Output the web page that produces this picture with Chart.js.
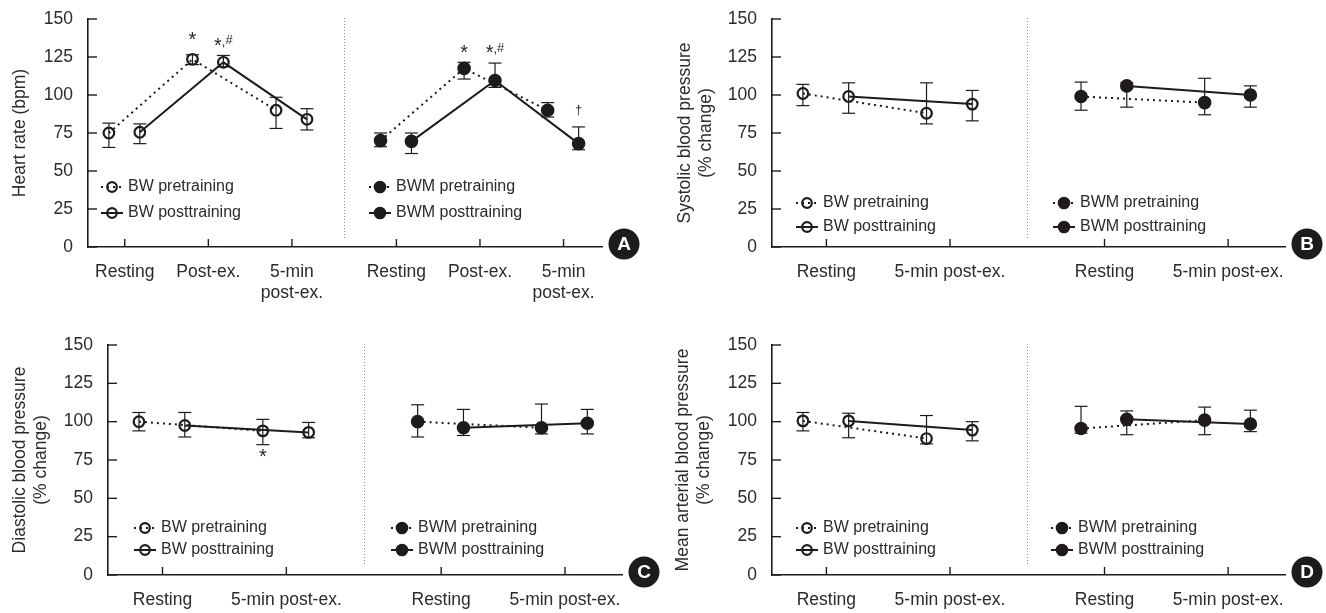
<!DOCTYPE html>
<html>
<head>
<meta charset="utf-8">
<script src="https://cdn.jsdelivr.net/npm/chart.js@4.4.1/dist/chart.umd.min.js"></script>
<style>
  html, body { margin: 0; padding: 0; background: #fff; }
  #wrap { position: relative; width: 1326px; height: 613px; }
  canvas { position: absolute; }
</style>
</head>
<body>
<div id="wrap">
  <canvas id="panelA" width="663" height="306" style="left:0;top:0"></canvas>
  <canvas id="panelB" width="663" height="306" style="left:663px;top:0"></canvas>
  <canvas id="panelC" width="663" height="307" style="left:0;top:306px"></canvas>
  <canvas id="panelD" width="663" height="307" style="left:663px;top:306px"></canvas>
</div>
<script>
const hrCategories = ['Resting', 'Post-ex.', ['5-min', 'post-ex.']];
const bpCategories = ['Resting', '5-min post-ex.'];
const groupNames = ['BW', 'BWM'];
const yTicks = [0, 25, 50, 75, 100, 125, 150];

// A - heart rate (bpm): mean, lower and upper end of the error bar
const hrBwPre = [75, 123.5, 90];
const hrBwPreLo = [65.5, 120, 78];
const hrBwPreHi = [81.5, 126.5, 98.5];
const hrBwPost = [75.5, 121.5, 84];
const hrBwPostLo = [68, 118.5, 77];
const hrBwPostHi = [81, 126, 91];
const hrBwmPre = [70, 117.5, 90];
const hrBwmPreLo = [66, 110.5, 85.5];
const hrBwmPreHi = [75, 121.5, 95];
const hrBwmPost = [69.5, 109.5, 68];
const hrBwmPostLo = [61.5, 105, 64];
const hrBwmPostHi = [75, 121, 79];

// B - systolic blood pressure (% change)
const sbpBwPre = [101, 88];
const sbpBwPreLo = [93, 81];
const sbpBwPreHi = [107, 108];
const sbpBwPost = [99, 94];
const sbpBwPostLo = [88, 83];
const sbpBwPostHi = [108, 103];
const sbpBwmPre = [99, 95];
const sbpBwmPreLo = [90, 87];
const sbpBwmPreHi = [108.5, 111];
const sbpBwmPost = [106, 100];
const sbpBwmPostLo = [92, 92];
const sbpBwmPostHi = [108, 106];

// C - diastolic blood pressure (% change)
const dbpBwPre = [100, 94];
const dbpBwPreLo = [94, 85];
const dbpBwPreHi = [106, 101.5];
const dbpBwPost = [97.5, 93];
const dbpBwPostLo = [90, 89.5];
const dbpBwPostHi = [106, 99.5];
const dbpBwmPre = [100, 96];
const dbpBwmPreLo = [90, 92];
const dbpBwmPreHi = [111, 111.5];
const dbpBwmPost = [96, 99];
const dbpBwmPostLo = [91, 92];
const dbpBwmPostHi = [108, 108];

// D - mean arterial blood pressure (% change)
const mapBwPre = [100.5, 89];
const mapBwPreLo = [94, 85.5];
const mapBwPreHi = [106, 104];
const mapBwPost = [100.5, 94.5];
const mapBwPostLo = [89.5, 87.5];
const mapBwPostHi = [105.5, 100];
const mapBwmPre = [95.5, 101];
const mapBwmPreLo = [92.5, 91.5];
const mapBwmPreHi = [110, 109.5];
const mapBwmPost = [101.5, 98.5];
const mapBwmPostLo = [91.5, 93.5];
const mapBwmPostHi = [107, 107.5];

const FONT = "'Liberation Sans', Arial, sans-serif";
const INK = '#1f1b1c';
const TEXT = '#2b2b2b';
const GAP = 1.25;          // extra room between the BW and BWM halves
const PRE_SHIFT = -0.19;   // pre/post markers sit either side of the tick
const POST_SHIFT = 0.18;

function series(group, kind, mean, lo, hi) {
  return { group, kind, mean, lo, hi };
}

const panels = [
  {
    id: 'panelA', badge: 'A', title: 'Heart rate (bpm)', titlePad: 10,
    categories: hrCategories,
    axisLeft: 88, axisRight: 602, plotTop: 19, plotBottom: 247,
    legendX: [24, 292], legendRows: [-60, -34],
    series: [
      series(0, 'pre', hrBwPre, hrBwPreLo, hrBwPreHi),
      series(0, 'post', hrBwPost, hrBwPostLo, hrBwPostHi),
      series(1, 'pre', hrBwmPre, hrBwmPreLo, hrBwmPreHi),
      series(1, 'post', hrBwmPost, hrBwmPostLo, hrBwmPostHi)
    ],
    notes: [
      { group: 0, kind: 'pre', index: 1, value: 135, text: '*' },
      { group: 0, kind: 'post', index: 1, value: 135, text: '*,#' },
      { group: 1, kind: 'pre', index: 1, value: 130, text: '*' },
      { group: 1, kind: 'post', index: 1, value: 130, text: '*,#' },
      { group: 1, kind: 'post', index: 2, value: 90, text: '\u2020' }
    ]
  },
  {
    id: 'panelB', badge: 'B', title: ['Systolic blood pressure', '(% change)'], titlePad: 12,
    categories: bpCategories,
    axisLeft: 109, axisRight: 622, plotTop: 19, plotBottom: 247,
    legendX: [35, 292], legendRows: [-44, -20],
    series: [
      series(0, 'pre', sbpBwPre, sbpBwPreLo, sbpBwPreHi),
      series(0, 'post', sbpBwPost, sbpBwPostLo, sbpBwPostHi),
      series(1, 'pre', sbpBwmPre, sbpBwmPreLo, sbpBwmPreHi),
      series(1, 'post', sbpBwmPost, sbpBwmPostLo, sbpBwmPostHi)
    ],
    notes: []
  },
  {
    id: 'panelC', badge: 'C', title: ['Diastolic blood pressure', '(% change)'], titlePad: 10,
    categories: bpCategories,
    axisLeft: 108, axisRight: 622, plotTop: 39, plotBottom: 269,
    legendX: [37, 294], legendRows: [-47, -25],
    series: [
      series(0, 'pre', dbpBwPre, dbpBwPreLo, dbpBwPreHi),
      series(0, 'post', dbpBwPost, dbpBwPostLo, dbpBwPostHi),
      series(1, 'pre', dbpBwmPre, dbpBwmPreLo, dbpBwmPreHi),
      series(1, 'post', dbpBwmPost, dbpBwmPostLo, dbpBwmPostHi)
    ],
    notes: [
      { group: 0, kind: 'pre', index: 1, value: 76, text: '*' }
    ]
  },
  {
    id: 'panelD', badge: 'D', title: ['Mean arterial blood pressure', '(% change)'], titlePad: 10,
    categories: bpCategories,
    axisLeft: 109, axisRight: 622, plotTop: 39, plotBottom: 269,
    legendX: [35, 290], legendRows: [-47, -25],
    series: [
      series(0, 'pre', mapBwPre, mapBwPreLo, mapBwPreHi),
      series(0, 'post', mapBwPost, mapBwPostLo, mapBwPostHi),
      series(1, 'pre', mapBwmPre, mapBwmPreLo, mapBwmPreHi),
      series(1, 'post', mapBwmPost, mapBwmPostLo, mapBwmPostHi)
    ],
    notes: []
  }
];

function tickValue(n, group, i) {
  return 1 + i + group * (n - 1 + GAP);
}

function tickValues(n) {
  const out = [];
  groupNames.forEach((g, gi) => {
    for (let i = 0; i < n; i++) out.push(tickValue(n, gi, i));
  });
  return out;
}

function buildDatasets(p) {
  const n = p.categories.length;
  return p.series.map(s => ({
    label: groupNames[s.group] + ' ' + (s.kind === 'pre' ? 'pretraining' : 'posttraining'),
    data: s.mean.map((v, i) => ({
      x: tickValue(n, s.group, i) + (s.kind === 'pre' ? PRE_SHIFT : POST_SHIFT),
      y: v
    })),
    lo: s.lo,
    hi: s.hi,
    group: s.group,
    kind: s.kind,
    borderColor: INK,
    borderWidth: 2,
    borderDash: s.kind === 'pre' ? [2, 4] : [],
    pointRadius: s.group ? 6 : 5.3,
    pointBorderWidth: s.group ? 1.6 : 2.2,
    pointBorderColor: INK,
    pointBackgroundColor: s.group ? INK : 'rgba(0,0,0,0)',
    tension: 0,
    fill: false
  }));
}

function line(ctx, x1, y1, x2, y2) {
  ctx.beginPath();
  ctx.moveTo(x1, y1);
  ctx.lineTo(x2, y2);
  ctx.stroke();
}

function drawNote(ctx, text, cx, cy) {
  const pieces = [...text].map(ch => ({ ch, size: ch === '*' ? 20 : 13 }));
  pieces.forEach(pc => {
    ctx.font = pc.size + 'px ' + FONT;
    pc.m = ctx.measureText(pc.ch);
  });
  const total = pieces.reduce((s, pc) => s + pc.m.width, 0);
  let x = cx - total / 2;
  ctx.textAlign = 'left';
  ctx.textBaseline = 'alphabetic';
  ctx.fillStyle = TEXT;
  pieces.forEach(pc => {
    ctx.font = pc.size + 'px ' + FONT;
    let base = cy + (pc.m.actualBoundingBoxAscent - pc.m.actualBoundingBoxDescent) / 2;
    if (pc.ch === ',') base = cy + 4;
    if (pc.ch === '#') base -= 2;
    ctx.fillText(pc.ch, x, base);
    x += pc.m.width;
  });
}

// dividers, error bars, inward ticks, the two small legends, notes and the panel letter
function figurePlugin(p) {
  return {
    id: 'figure',
    beforeDatasetsDraw(chart) {
      const ctx = chart.ctx, a = chart.chartArea;
      const xs = chart.scales.x, ys = chart.scales.y;
      const n = p.categories.length;
      ctx.save();
      // dotted divider between BW and BWM
      const dx = Math.round(xs.getPixelForValue(n + GAP / 2)) + 0.5;
      ctx.strokeStyle = '#8c8c8c';
      ctx.lineWidth = 1;
      ctx.setLineDash([1, 2]);
      line(ctx, dx, a.top - 1, dx, a.bottom - 9);
      ctx.setLineDash([]);
      // error bars
      ctx.strokeStyle = INK;
      ctx.lineWidth = 1.2;
      chart.data.datasets.forEach((ds, di) => {
        const meta = chart.getDatasetMeta(di);
        meta.data.forEach((pt, i) => {
          const y1 = ys.getPixelForValue(ds.lo[i]);
          const y2 = ys.getPixelForValue(ds.hi[i]);
          line(ctx, pt.x, y1, pt.x, y2);
          line(ctx, pt.x - 6.5, y1, pt.x + 6.5, y1);
          line(ctx, pt.x - 6.5, y2, pt.x + 6.5, y2);
        });
      });
      ctx.restore();
    },
    afterDraw(chart) {
      const ctx = chart.ctx, a = chart.chartArea;
      const xs = chart.scales.x, ys = chart.scales.y;
      ctx.save();
      // tick marks point inwards
      ctx.strokeStyle = INK;
      ctx.lineWidth = 1.4;
      xs.ticks.forEach(t => {
        const px = xs.getPixelForValue(t.value);
        line(ctx, px, a.bottom, px, a.bottom - 8);
      });
      ys.ticks.forEach(t => {
        const py = ys.getPixelForValue(t.value);
        line(ctx, a.left, py, a.left + 9, py);
      });
      // legends, one per half
      p.legendX.forEach((lx, g) => {
        ['pre', 'post'].forEach((kind, r) => {
          const ds = chart.data.datasets.find(d => d.group === g && d.kind === kind);
          const cx = a.left + lx, cy = a.bottom + p.legendRows[r];
          ctx.strokeStyle = INK;
          ctx.lineWidth = ds.borderWidth;
          ctx.setLineDash(ds.borderDash);
          line(ctx, cx - 11, cy, cx + 11, cy);
          ctx.setLineDash([]);
          ctx.beginPath();
          ctx.arc(cx, cy, ds.pointRadius - 0.5, 0, Math.PI * 2);
          ctx.fillStyle = ds.pointBackgroundColor;
          ctx.fill();
          ctx.lineWidth = ds.pointBorderWidth;
          ctx.stroke();
          ctx.fillStyle = TEXT;
          ctx.font = '16px ' + FONT;
          ctx.textAlign = 'left';
          ctx.textBaseline = 'middle';
          ctx.fillText(ds.label, cx + 16, cy);
        });
      });
      // significance marks
      p.notes.forEach(nt => {
        const di = chart.data.datasets.findIndex(d => d.group === nt.group && d.kind === nt.kind);
        const px = chart.getDatasetMeta(di).data[nt.index].x;
        drawNote(ctx, nt.text, px, ys.getPixelForValue(nt.value));
      });
      // panel letter
      const bx = a.right + 22, by = a.bottom - 3;
      ctx.beginPath();
      ctx.arc(bx, by, 15.5, 0, Math.PI * 2);
      ctx.fillStyle = '#1c1c1c';
      ctx.fill();
      ctx.fillStyle = '#ffffff';
      ctx.font = 'bold 19px ' + FONT;
      ctx.textAlign = 'center';
      ctx.textBaseline = 'middle';
      ctx.fillText(p.badge, bx, by + 1);
      ctx.restore();
    }
  };
}

panels.forEach(p => {
  const canvas = document.getElementById(p.id);
  const n = p.categories.length;
  const ticksX = tickValues(n);
  const labelsX = [...p.categories, ...p.categories];
  new Chart(canvas.getContext('2d'), {
    type: 'line',
    data: { datasets: buildDatasets(p) },
    plugins: [figurePlugin(p)],
    options: {
      responsive: false,
      animation: false,
      devicePixelRatio: 1,
      events: [],
      layout: {
        padding: { top: p.plotTop, right: canvas.width - p.axisRight, bottom: 0, left: 0 }
      },
      plugins: {
        legend: { display: false },
        tooltip: { enabled: false }
      },
      scales: {
        x: {
          type: 'linear',
          min: 1 - 0.44,
          max: ticksX[ticksX.length - 1] + 0.46,
          afterBuildTicks: s => { s.ticks = ticksX.map(v => ({ value: v })); },
          afterFit: s => {
            s.height = canvas.height - p.plotBottom;
            s.paddingLeft = 0;
            s.paddingRight = 0;
          },
          grid: { display: false, drawTicks: false },
          border: { color: INK, width: 1.6 },
          ticks: {
            autoSkip: false,
            maxRotation: 0,
            padding: 15,
            color: TEXT,
            font: { family: FONT, size: 17.5, lineHeight: 1.2 },
            callback: (v, i) => labelsX[i]
          }
        },
        y: {
          min: 0,
          max: 150,
          afterBuildTicks: s => { s.ticks = yTicks.map(v => ({ value: v })); },
          afterFit: s => {
            s.width = p.axisLeft;
            s.paddingTop = 0;
            s.paddingBottom = 0;
          },
          grid: { display: false, drawTicks: false },
          border: { color: INK, width: 1.6 },
          ticks: {
            padding: 15,
            color: TEXT,
            font: { family: FONT, size: 17.5 }
          },
          title: {
            display: true,
            text: p.title,
            color: TEXT,
            padding: { top: p.titlePad, bottom: 0 },
            font: { family: FONT, size: 17.5, lineHeight: 1.17 }
          }
        }
      }
    }
  });
});
</script>
</body>
</html>
